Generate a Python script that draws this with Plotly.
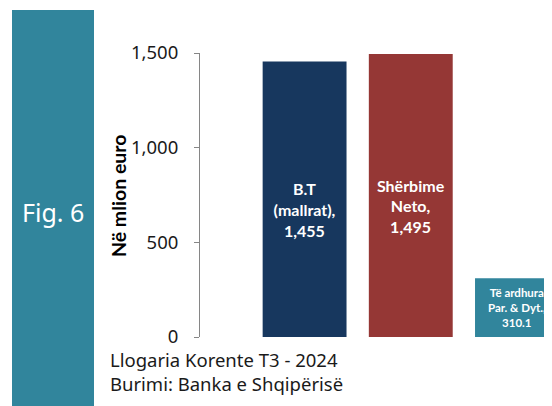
import plotly.graph_objects as go

# ---- data ----
categories = ["B.T<br>(mallrat)", "Shërbime<br>Neto", "Të ardhura<br>Par. & Dyt."]
values = [1455, 1495, 310.1]
bar_colors = ["#17375E", "#953735", "#31859C"]
label_sizes = [16, 16, 11.5]
label_lead = ["\u00a0<br>", "\u00a0<br>", ""]
y_ticks = [0, 500, 1000, 1500]
y_title = "Në mlion euro"
fig_label = "Fig. 6"
note_lines = ["Llogaria Korente T3 - 2024", "Burimi: Banka e Shqipërisë"]

OFF = 8  # page body margin
W, H = 552 - OFF, 406 - OFF
L, R, T, B = 200 - OFF, 0, 53 - OFF, H - (337 - OFF)
pw, ph = W - L - R, H - T - B

def px_x(x):  # screen pixel -> paper
    return (x - OFF - L) / pw

def px_y(y):
    return (H - B - (y - OFF)) / ph

texts = [f"{p}{c},<br>{v:,}" for p, c, v in zip(label_lead, categories, values)]

fig = go.Figure(
    go.Bar(
        x=list(range(len(values))),
        y=values,
        width=0.79,
        marker=dict(color=bar_colors, line=dict(width=0)),
        text=texts,
        textposition="inside",
        insidetextanchor="middle",
        textangle=0,
        constraintext="none",
        textfont=dict(family="Lato", size=label_sizes, color="white", weight="bold"),
        hoverinfo="skip",
    )
)

fig.update_layout(
    width=W,
    height=H,
    margin=dict(l=L, r=R, t=T, b=B, autoexpand=False),
    paper_bgcolor="white",
    plot_bgcolor="white",
    showlegend=False,
    xaxis=dict(range=[-0.985, 2.33], visible=False, fixedrange=True),
    yaxis=dict(
        range=[0, 1500],
        tickvals=y_ticks,
        tickformat=",",
        ticks="outside",
        ticklen=5,
        tickcolor="#868686",
        showline=True,
        linecolor="#868686",
        linewidth=1,
        showgrid=False,
        zeroline=False,
        ticklabelstandoff=12,
        tickfont=dict(family="Noto Sans", size=18.5, color="#1a1a1a"),
        fixedrange=True,
    ),
    shapes=[
        dict(
            type="rect", xref="paper", yref="paper",
            x0=px_x(12), x1=px_x(94), y0=px_y(430), y1=px_y(10),
            fillcolor="#31859C", line=dict(width=0), layer="below",
        )
    ],
    annotations=[
        dict(
            text=fig_label, xref="paper", yref="paper",
            x=px_x(53), y=px_y(212), xanchor="center", yanchor="middle",
            showarrow=False, font=dict(family="Noto Sans", size=25, color="white"),
        ),
        dict(
            text=f"<b>{y_title}</b>", xref="paper", yref="paper",
            x=px_x(118), y=px_y(196), xanchor="center", yanchor="middle",
            textangle=-90, showarrow=False,
            font=dict(family="Lato", size=19.5, color="#000000"),
        ),
        dict(
            text="<br>".join(note_lines), xref="paper", yref="paper",
            x=px_x(108), y=px_y(371), xanchor="left", yanchor="middle",
            align="left", showarrow=False,
            font=dict(family="Noto Sans", size=18.5, color="#1a1a1a"),
        ),
    ],
)

fig.write_html("out.html", config={"displayModeBar": False})
